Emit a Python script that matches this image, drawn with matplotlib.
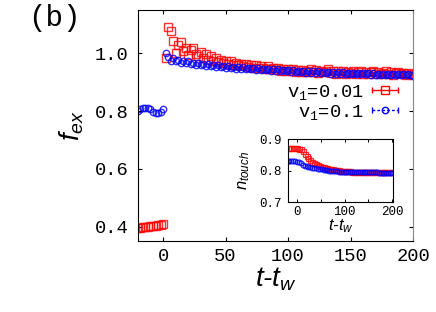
import numpy as np
import matplotlib; matplotlib.use("Agg")
import matplotlib.pyplot as plt
from matplotlib.lines import Line2D
from matplotlib.legend_handler import HandlerLine2D

# main panel: f_ex vs t-t_w, sampled every 2 time units from -20 to 200
t_main = np.arange(-20, 201, 2)
fex_v001 = [0.395, 0.396, 0.397, 0.399, 0.400, 0.401, 0.402, 0.403, 0.405, 0.407, 0.410,
            0.985, 1.090, 1.078, 1.042, 1.002, 1.030, 1.040, 1.008, 1.020, 0.995,
            1.010, 1.018, 0.998, 0.990, 1.005, 0.985, 0.998, 0.978, 0.990, 0.975,
            0.982, 0.970, 0.978, 0.968, 0.975, 0.962, 0.972, 0.958, 0.966, 0.960,
            0.964, 0.955, 0.962, 0.952, 0.960, 0.950, 0.958, 0.948, 0.955, 0.950,
            0.946, 0.955, 0.944, 0.950, 0.942, 0.948, 0.940, 0.947, 0.938, 0.945,
            0.937, 0.944, 0.936, 0.942, 0.935, 0.943, 0.934, 0.940, 0.945, 0.935,
            0.941, 0.933, 0.940, 0.934, 0.938, 0.944, 0.932, 0.939, 0.930, 0.937,
            0.933, 0.940, 0.930, 0.936, 0.931, 0.938, 0.929, 0.935, 0.940, 0.930,
            0.936, 0.928, 0.934, 0.939, 0.929, 0.935, 0.927, 0.933, 0.938, 0.928,
            0.934, 0.926, 0.932, 0.936, 0.927, 0.933, 0.925, 0.931, 0.928, 0.924]
fex_v01 = [0.800, 0.806, 0.810, 0.812, 0.811, 0.806, 0.798, 0.793, 0.792, 0.798, 0.806,
           1.000, 0.988, 0.975, 0.985, 0.972, 0.978, 0.968, 0.975, 0.966, 0.972,
           0.962, 0.968, 0.960, 0.966, 0.958, 0.964, 0.956, 0.962, 0.955, 0.960,
           0.953, 0.958, 0.951, 0.957, 0.950, 0.955, 0.949, 0.954, 0.947, 0.953,
           0.946, 0.951, 0.945, 0.950, 0.944, 0.949, 0.943, 0.948, 0.942, 0.947,
           0.941, 0.946, 0.940, 0.945, 0.939, 0.944, 0.938, 0.943, 0.937, 0.942,
           0.936, 0.941, 0.935, 0.940, 0.934, 0.939, 0.933, 0.938, 0.933, 0.937,
           0.932, 0.937, 0.931, 0.936, 0.931, 0.935, 0.930, 0.935, 0.930, 0.934,
           0.929, 0.934, 0.929, 0.933, 0.928, 0.933, 0.928, 0.932, 0.927, 0.932,
           0.927, 0.931, 0.926, 0.931, 0.926, 0.930, 0.926, 0.930, 0.925, 0.930,
           0.925, 0.929, 0.925, 0.929, 0.924, 0.928, 0.924, 0.928, 0.924, 0.922]

# inset: n_touch vs t-t_w, every 4 time units
t_ins = np.arange(-20, 201, 4)
ntouch_v001 = [0.872, 0.873, 0.873, 0.874, 0.873, 0.872, 0.871,
               0.870, 0.862, 0.853, 0.846, 0.840, 0.834, 0.829, 0.825, 0.822, 0.819, 0.816,
               0.814, 0.812, 0.810, 0.808, 0.807, 0.806, 0.805, 0.804, 0.803, 0.802, 0.801, 0.800,
               0.800, 0.799, 0.799, 0.799, 0.798, 0.798, 0.798, 0.798, 0.797, 0.797, 0.797,
               0.797, 0.797, 0.796, 0.796, 0.796, 0.796, 0.796, 0.796, 0.795, 0.795, 0.795,
               0.795, 0.795, 0.795, 0.795]
ntouch_v01 = [0.830, 0.831, 0.831, 0.831, 0.830, 0.829, 0.827,
              0.824, 0.820, 0.817, 0.815, 0.813, 0.811, 0.810, 0.809, 0.808, 0.807, 0.806,
              0.805, 0.804, 0.803, 0.802, 0.801, 0.800, 0.800, 0.799, 0.799, 0.798, 0.798, 0.798,
              0.797, 0.797, 0.797, 0.797, 0.796, 0.796, 0.796, 0.796, 0.796, 0.796, 0.795,
              0.795, 0.795, 0.795, 0.795, 0.795, 0.795, 0.795, 0.794, 0.794, 0.794,
              0.794, 0.794, 0.794, 0.794, 0.794]

RED, BLUE = "#ff0000", "#0000ff"
MONO = "Liberation Mono"
plt.rcParams.update({"mathtext.fontset": "custom", "mathtext.rm": MONO,
                     "mathtext.it": "Liberation Sans:italic",
                     "mathtext.sf": "Liberation Sans", "font.family": MONO})


class ErrHandler(HandlerLine2D):
    # legend line with small end caps, gnuplot-like errorbar key
    def create_artists(self, legend, orig_handle, xdescent, ydescent, width, height, fontsize, trans):
        arts = super().create_artists(legend, orig_handle, xdescent, ydescent, width, height, fontsize, trans)
        y = (height - ydescent) / 2
        caps = Line2D([-xdescent, -xdescent + width], [y, y], ls="none", marker="|", ms=5,
                      mew=1.0, color=orig_handle.get_color(), transform=trans)
        return list(arts) + [caps]


fig = plt.figure(figsize=(4.36, 3.12), dpi=100)
ax = fig.add_axes([0.3165, 0.2276, 0.631, 0.7404])
ax.plot(t_main, fex_v001, ls="none", marker="s", ms=5.2, mfc="none", mec=RED, mew=1.0, alpha=0.8)
ax.plot(t_main, fex_v01, ls="none", marker="o", ms=4.6, mfc="none", mec=BLUE, mew=1.0, alpha=0.8)
ax.set_xlim(-20, 200); ax.set_ylim(0.35, 1.15)
ax.set_xticks([0, 50, 100, 150, 200]); ax.set_yticks([0.4, 0.6, 0.8, 1.0])
ax.set_yticklabels(["0.4", "0.6", "0.8", "1.0"])
ax.tick_params(direction="in", length=3, width=0.8, top=True, right=True, labelsize=13.5, pad=5)
ax.tick_params(axis="y", pad=7)
ax.spines["right"].set_color("#888888")
ax.set_xlabel("$t$-$t_w$", fontsize=20, fontstyle="italic", family="Liberation Sans")
ax.xaxis.set_label_coords(0.5, -0.105)
ax.set_ylabel("$f_{ex}$", fontsize=20)
ax.yaxis.set_label_coords(-0.19, 0.5)

h1 = Line2D([], [], color=RED, lw=1.0, marker="s", ms=5.2, mfc="none", mec=RED)
h2 = Line2D([], [], color=BLUE, lw=1.0, ls=(0, (2, 1.5)), marker="o", ms=4.6, mfc="none", mec=BLUE)
ax.legend([h1, h2], ["v$_1$=0.01", "v$_1$=0.1"], loc="upper right", bbox_to_anchor=(0.945, 0.685),
          frameon=False, markerfirst=False, fontsize=13.5, labelspacing=0.05,
          handlelength=1.4, handletextpad=0.4, borderpad=0, borderaxespad=0,
          handler_map={h1: ErrHandler(), h2: ErrHandler()})

fig.text(0.064, 0.942, "(b)", fontsize=21, ha="left", va="center")

ins = fig.add_axes([0.6606, 0.3516, 0.2408, 0.2013])
ins.plot(t_ins, ntouch_v001, ls="none", marker="s", ms=3.6, mfc="none", mec=RED, mew=0.9, alpha=0.8)
ins.plot(t_ins, ntouch_v01, ls="none", marker="o", ms=3.4, mfc="none", mec=BLUE, mew=0.9, alpha=0.8)
ins.set_xlim(-19, 202); ins.set_ylim(0.7, 0.9)
ins.set_xticks([0, 100, 200]); ins.set_xticks([50, 150], minor=True)
ins.set_yticks([0.7, 0.8, 0.9]); ins.set_yticklabels(["0.7", "0.8", "0.9"])
ins.tick_params(which="both", direction="in", length=2.5, width=0.7, top=True, right=True, labelsize=9, pad=3)
ins.tick_params(axis="y", pad=4.5)
ins.set_xlabel("$t$-$t_w$", fontsize=12, fontstyle="italic", family="Liberation Sans")
ins.xaxis.set_label_coords(0.5, -0.245)
ins.set_ylabel("$n_{touch}$", fontsize=12)
ins.yaxis.set_label_coords(-0.34, 0.5)

fig.savefig("out.png", dpi=100)
